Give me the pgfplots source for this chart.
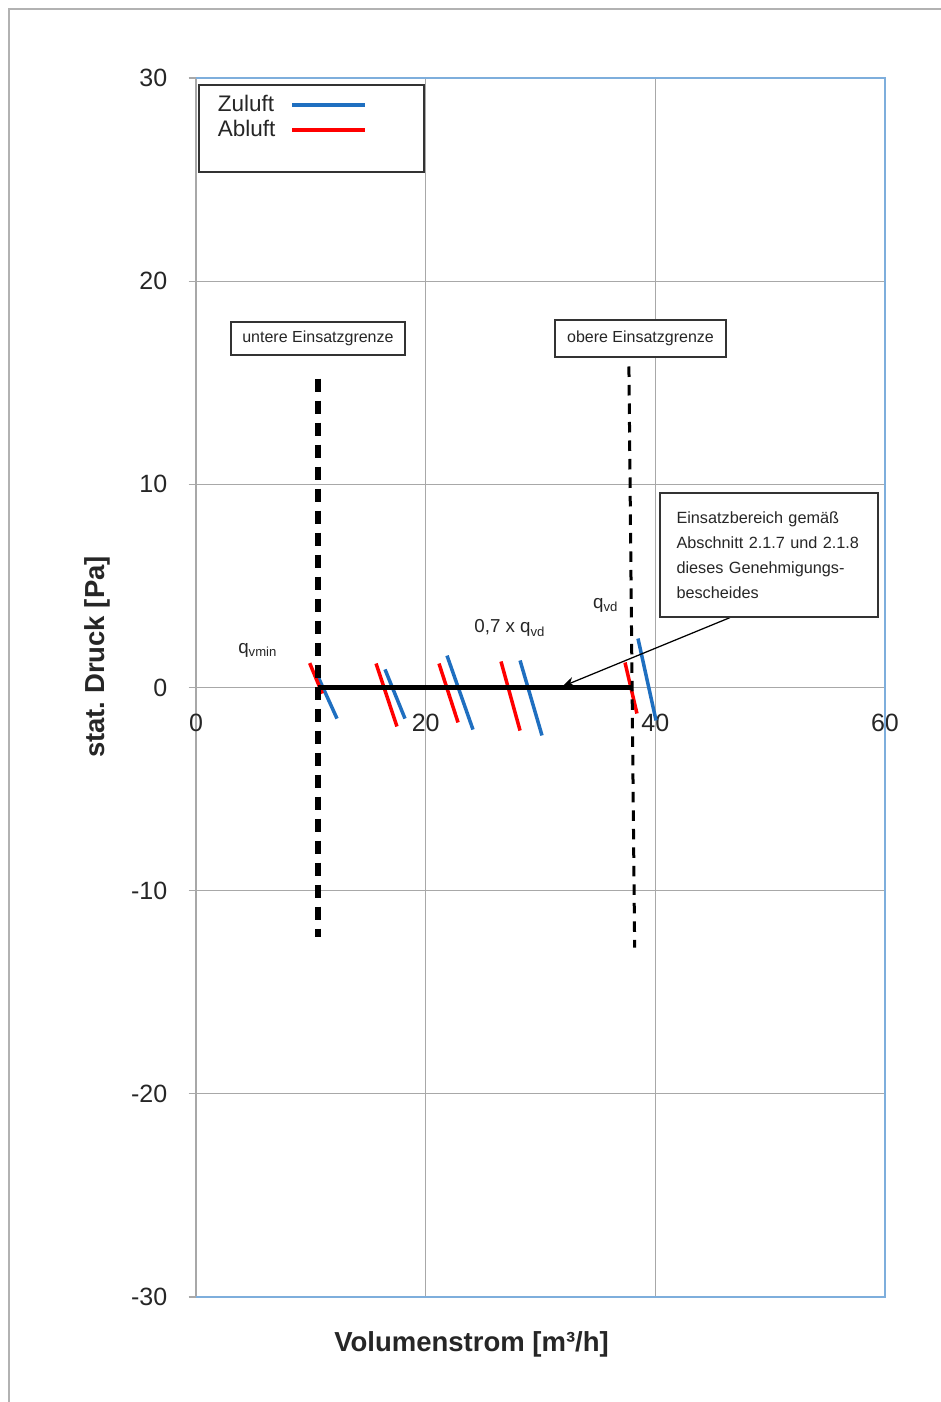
\documentclass[border=0pt]{standalone}
\usepackage{fontspec}
\setmainfont{Liberation Sans}
\usepackage{pgfplots}
\pgfplotsset{compat=1.18}
\usetikzlibrary{arrows.meta}
\definecolor{zul}{HTML}{1F6FC0}
\definecolor{abl}{HTML}{FF0000}
\definecolor{frameblue}{HTML}{7EAEDC}
\definecolor{gridgray}{HTML}{A8A8A8}
\definecolor{txt}{HTML}{262626}
\frenchspacing
\begin{document}
\begin{tikzpicture}
\begin{axis}[
  scale only axis, width=275.6pt, height=487.6pt,
  xmin=0, xmax=60, ymin=-30, ymax=30,
  axis x line=middle, axis y line=left,
  axis line style={gridgray, line width=0.5pt, -},
  xtick={0,20,40,60}, ytick={-30,-20,...,30},
  hide obscured x ticks=false, hide obscured y ticks=false,
  grid=major, major grid style={gridgray, line width=0.5pt},
  tick style={gridgray, line width=0.5pt}, tick align=outside, major tick length=3pt,
  ticklabel style={font=\fontsize{10}{12}\selectfont, text=txt},
  /pgf/number format/assume math mode=true,
  xticklabel style={yshift=-4pt},
  yticklabel style={xshift=-5pt},
  xlabel={Volumenstrom [m³/h]}, ylabel={stat. Druck [Pa]},
  every axis x label/.style={at={(axis description cs:0.40,-0.039)}, anchor=center, font=\fontsize{11}{13}\selectfont\bfseries, text=txt},
  every axis y label/.style={at={(axis description cs:-0.1437,0.525)}, rotate=90, anchor=center, font=\fontsize{11}{13}\selectfont\bfseries, text=txt},
  legend style={draw=none, fill=none, at={(axis description cs:0.02,0.9925)}, anchor=north west,
    font=\fontsize{9}{10}\selectfont, row sep=-2pt, inner sep=1pt, text=txt},
  legend cell align=left,
  legend plot pos=right,
  legend image code/.code={\path (0pt,0pt); \draw[#1, line width=1.7pt] (4pt,0pt) -- (33pt,0pt);},
  clip=false,
]
% blue frame (top, right, bottom)
\draw[frameblue, line width=0.7pt] (rel axis cs:0,1) -- (rel axis cs:1,1) -- (rel axis cs:1,0) -- (rel axis cs:0,0);
% legend frame
\draw[black!80, line width=0.6pt, fill=white] (axis description cs:0.0044,0.9943) rectangle (axis description cs:0.331,0.9229);

\addplot[zul, line width=1.4pt] coordinates {(10.62,0.54) (12.28,-1.53)};
\addlegendentry{Zuluft}
\addplot[abl, line width=1.4pt] coordinates {(9.9,1.2) (11.0,-0.3)};
\addlegendentry{Abluft}

\addplot[abl, line width=1.4pt, forget plot] coordinates {(15.68,1.18) (17.50,-1.92)};
\addplot[zul, line width=1.4pt, forget plot] coordinates {(16.46,0.89) (18.20,-1.53)};
\addplot[abl, line width=1.4pt, forget plot] coordinates {(21.16,1.18) (22.82,-1.72)};
\addplot[zul, line width=1.4pt, forget plot] coordinates {(21.86,1.57) (24.12,-2.07)};
\addplot[abl, line width=1.4pt, forget plot] coordinates {(26.56,1.28) (28.22,-2.12)};
\addplot[zul, line width=1.4pt, forget plot] coordinates {(28.22,1.33) (30.13,-2.36)};
\addplot[abl, line width=1.4pt, forget plot] coordinates {(37.36,1.23) (38.40,-1.28)};
\addplot[zul, line width=1.4pt, forget plot] coordinates {(38.49,2.41) (40.06,-1.62)};

\addplot[black, line width=2pt, forget plot] coordinates {(10.6,0) (38.0,0)};
\addplot[black, line width=2.4pt, dash pattern=on 5.4pt off 3.4pt, forget plot] coordinates {(10.6,15.2) (10.6,-12.3)};
\addplot[black, line width=1.2pt, dash pattern=on 4.2pt off 3.2pt, forget plot] coordinates {(37.7,15.8) (38.2,-12.8)};
\addplot[black, line width=0.5pt, -{Stealth[length=5pt,width=4pt]}, forget plot] coordinates {(46.5,3.44) (31.9,0.05)};

\node[draw=black!80, fill=white, line width=0.6pt, text=txt, font=\fontsize{6.4}{8}\selectfont,
  minimum width=69.6pt, minimum height=13.2pt, inner sep=2pt] at (axis cs:10.62,17.18) {untere Einsatzgrenze};
\node[draw=black!80, fill=white, line width=0.6pt, text=txt, font=\fontsize{6.4}{8}\selectfont,
  minimum width=68.4pt, minimum height=14.8pt, inner sep=2pt] at (axis cs:38.71,17.18) {obere Einsatzgrenze};
\node[draw=black!80, fill=white, line width=0.6pt, text=txt, font=\fontsize{6.5}{10}\selectfont,
  minimum width=87.2pt, minimum height=49.6pt, text width=74pt, align=left, inner xsep=6.4pt]
  at (axis cs:49.9,6.52) {Einsatzbereich gemäß\\Abschnitt 2.1.7 und 2.1.8\\dieses Genehmigungs-\\bescheides};

\node[text=txt, font=\fontsize{7.5}{9}\selectfont] at (axis cs:5.4,1.85) {q\textsubscript{vmin}};
\node[text=txt, font=\fontsize{7.5}{9}\selectfont] at (axis cs:27.35,2.93) {0,7 x q\textsubscript{vd}};
\node[text=txt, font=\fontsize{7.5}{9}\selectfont] at (axis cs:35.7,4.06) {q\textsubscript{vd}};
\end{axis}
\draw[black!30, line width=0.8pt] ([xshift=-74.8pt,yshift=-42pt]current axis.south west) -- ([xshift=-74.8pt,yshift=27.6pt]current axis.north west) -- ([xshift=22.4pt,yshift=27.6pt]current axis.north east);
\pgfresetboundingbox
\path ([xshift=-78.4pt,yshift=-42pt]current axis.south west) rectangle ([xshift=22.4pt,yshift=31.2pt]current axis.north east);
\end{tikzpicture}
\end{document}
